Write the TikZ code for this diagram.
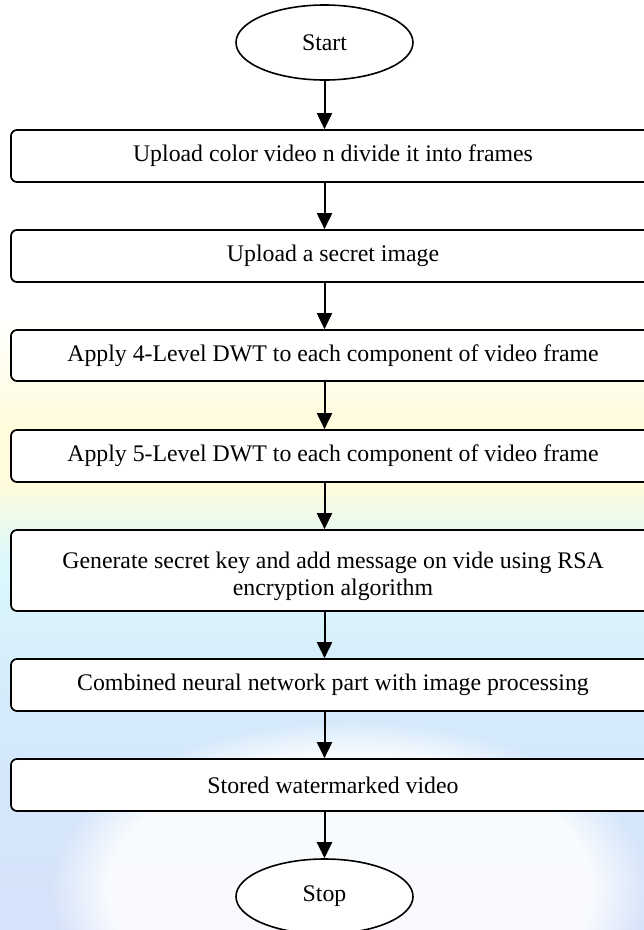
\documentclass[tikz,border=0pt]{standalone}
\usepackage{fontspec}
\setmainfont{Liberation Serif}
\usetikzlibrary{arrows.meta,shapes.geometric,fadings}
\definecolor{wmA}{HTML}{D6E2FA}
\definecolor{wmB}{HTML}{D4EAFB}
\definecolor{wmC}{HTML}{DCF8FC}
\definecolor{wmD}{HTML}{FFFBDC}
\pgfdeclareverticalshading{wmshade}{100bp}{color(0bp)=(wmA); color(25bp)=(wmA); color(37bp)=(wmB); color(45bp)=(wmC); color(49bp)=(wmD); color(52bp)=(wmD); color(58bp)=(white); color(100bp)=(white)}
\begin{document}
\begin{tikzpicture}[x=1pt,y=-1pt,
  every node/.style={font=\fontsize{23.8}{27.4}\selectfont},
  procbox/.style={draw, line width=1.7pt, rounded corners=6pt, fill=white,
    minimum width=644pt, minimum height=52pt, inner sep=0pt, align=center},
  termnode/.style={draw, ellipse, line width=1.6pt, fill=white,
    minimum width=177pt, minimum height=75pt, inner sep=0pt},
  flow/.style={line width=2pt, -{Triangle[length=16pt,width=15pt]}}]
\useasboundingbox (0,0) rectangle (644,930);
\clip (0,0) rectangle (644,930);
% faint background watermark
\shade[shading=wmshade] (0,0) rectangle (644,930);
\fill[white, opacity=0.85, path fading=circle with fuzzy edge 20 percent] (350,890) ellipse [x radius=300, y radius=170];
% nodes
\node[termnode] (start) at (324.5,42.5) {Start};
\node[procbox] (b1) at (333,156) {Upload color video n divide it into frames};
\node[procbox] (b2) at (333,256) {Upload a secret image};
\node[procbox, minimum height=51pt] (b3) at (333,355.5) {Apply 4-Level DWT to each component of video frame};
\node[procbox] (b4) at (333,456) {Apply 5-Level DWT to each component of video frame};
\node[procbox, minimum height=81pt] (b5) at (333,570.5) {};
\node[align=center, inner sep=0pt] (b5t) at (333,576.5) {Generate secret key and add message on vide using RSA\\encryption algorithm};
\node[procbox] (b6) at (333,685) {Combined neural network part with image processing};
\node[procbox] (b7) at (333,785) {Stored watermarked video};
\node[termnode] (stop) at (324.5,896.5) {Stop};
% connectors
\draw[flow] (start.south) -- (start.south |- b1.north);
\draw[flow] (b1.south -| start) -- (b2.north -| start);
\draw[flow] (b2.south -| start) -- (b3.north -| start);
\draw[flow] (b3.south -| start) -- (b4.north -| start);
\draw[flow] (b4.south -| start) -- (b5.north -| start);
\draw[flow] (b5.south -| start) -- (b6.north -| start);
\draw[flow] (b6.south -| start) -- (b7.north -| start);
\draw[flow] (b7.south -| start) -- (stop.north);
\end{tikzpicture}
\end{document}
